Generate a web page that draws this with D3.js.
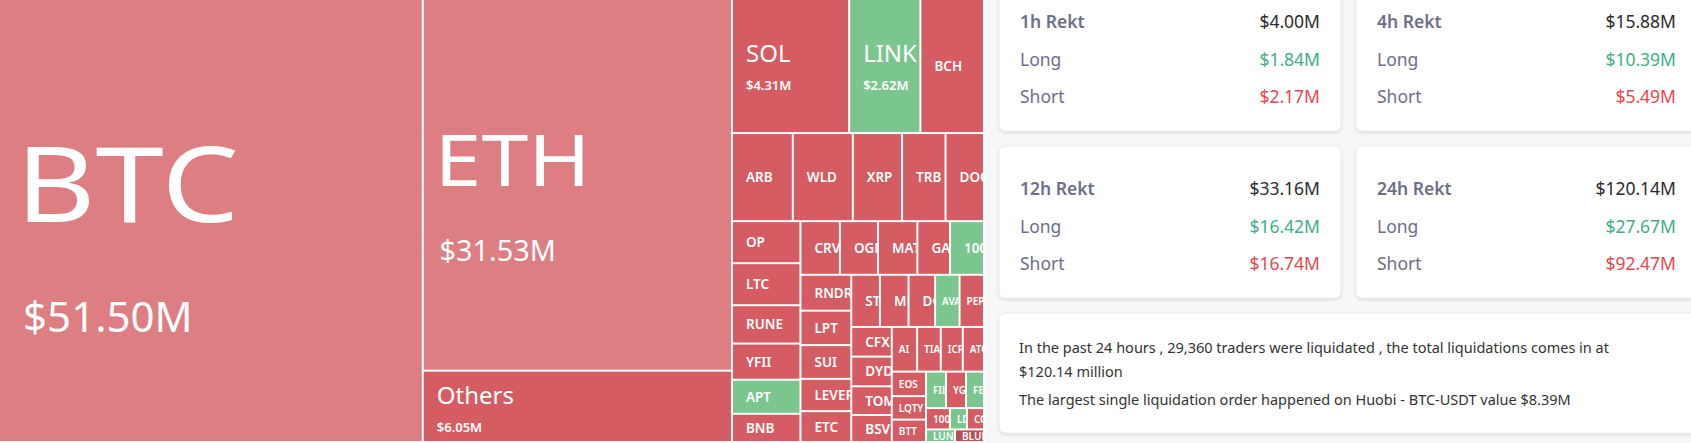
<!DOCTYPE html>
<html>
<head>
<meta charset="utf-8">
<script src="https://cdn.jsdelivr.net/npm/d3@7"></script>
<style>
  html, body { margin: 0; padding: 0; background: #f7f7f8; overflow: hidden; }
  svg { display: block; font-family: "Noto Sans", "Open Sans", sans-serif; }
</style>
</head>
<body>
<svg id="chart" width="1691" height="443"></svg>
<script>
// coins, liquidation value in $M, and which side dominated (1 = long / green)
var bigCoins = ["BTC", "ETH", "Others"];
var bigValues = [51.50, 31.53, 6.05];

var row1Coins = ["SOL", "LINK", "BCH"];
var row1Values = [4.31, 2.62, 2.34];
var row1Green = [0, 1, 0];

var row2Coins = ["ARB", "WLD", "XRP", "TRB", "DOGE"];
var row2Values = [1.47, 1.45, 1.19, 1.05, 0.93];

var colACoins = ["OP", "LTC", "RUNE", "YFII", "APT", "BNB"];
var colAValues = [0.79, 0.79, 0.72, 0.68, 0.64, 0.53];
var colAGreen = [0, 0, 0, 0, 1, 0];

var rowBCoins = ["CRV", "OGN", "MATIC", "GALA", "1000SHIB"];
var rowBValues = [0.58, 0.56, 0.58, 0.48, 0.50];
var rowBGreen = [0, 0, 0, 0, 1];

var colCCoins = ["RNDR", "LPT", "SUI", "LEVER", "ETC"];
var colCValues = [0.50, 0.48, 0.47, 0.45, 0.43];

var rowDCoins = ["STX", "MKR", "DOT", "AVAX", "PEPE"];
var rowDValues = [0.41, 0.41, 0.38, 0.35, 0.35];
var rowDGreen = [0, 0, 0, 1, 0];

var colECoins = ["CFX", "DYDX", "TOMO", "BSV"];
var colEValues = [0.33, 0.33, 0.32, 0.30];

var rowFCoins = ["AI", "TIA", "ICP", "ATOM"];
var rowFValues = [0.31, 0.29, 0.27, 0.26];

var colGCoins = ["EOS", "LQTY", "BTT"];
var colGValues = [0.23, 0.22, 0.21];

var rowHCoins = ["FIL", "YGG", "FET"];
var rowHValues = [0.20, 0.20, 0.18];
var rowHGreen = [1, 0, 1];

var rowICoins = ["1000FLOKI", "LDO", "COMP"];
var rowIValues = [0.14, 0.10, 0.10];
var rowIGreen = [0, 1, 0];

var rowJCoins = ["LUNA", "BLUR"];
var rowJValues = [0.10, 0.10];
var rowJGreen = [1, 2];

// rekt cards
var periods = ["1h Rekt", "4h Rekt", "12h Rekt", "24h Rekt"];
var totals = ["$4.00M", "$15.88M", "$33.16M", "$120.14M"];
var longs = ["$1.84M", "$10.39M", "$16.42M", "$27.67M"];
var shorts = ["$2.17M", "$5.49M", "$16.74M", "$92.47M"];
var summaryLines = [
  "In the past 24 hours , 29,360 traders were liquidated , the total liquidations comes in at",
  "$120.14 million",
  "The largest single liquidation order happened on Huobi - BTC-USDT value $8.39M"
];

function leaves(names, values, green, light) {
  return names.map(function(n, i) {
    return { name: n, value: values[i], green: green ? green[i] : 0, light: !!light };
  });
}
function group(dir, kids) { return { dir: dir, children: kids }; }

// "h" = split left-to-right, "v" = split top-to-bottom
var tree = group("h", [
  leaves([bigCoins[0]], [bigValues[0]], null, true)[0],
  group("v", leaves(bigCoins.slice(1), bigValues.slice(1), null, true)
    .map(function(d, i) { if (i == 1) d.light = false; return d; })),
  group("v", [
    group("h", leaves(row1Coins, row1Values, row1Green)),
    group("h", leaves(row2Coins, row2Values)),
    group("h", [
      group("v", leaves(colACoins, colAValues, colAGreen)),
      group("v", [
        group("h", leaves(rowBCoins, rowBValues, rowBGreen)),
        group("h", [
          group("v", leaves(colCCoins, colCValues)),
          group("v", [
            group("h", leaves(rowDCoins, rowDValues, rowDGreen)),
            group("h", [
              group("v", leaves(colECoins, colEValues)),
              group("v", [
                group("h", leaves(rowFCoins, rowFValues)),
                group("h", [
                  group("v", leaves(colGCoins, colGValues)),
                  group("v", [
                    group("h", leaves(rowHCoins, rowHValues, rowHGreen)),
                    group("h", leaves(rowICoins, rowIValues, rowIGreen)),
                    group("h", leaves(rowJCoins, rowJValues, rowJGreen))
                  ])
                ])
              ])
            ])
          ])
        ])
      ])
    ])
  ])
]);

var W = 985, H = 443;
var svg = d3.select("#chart");

var root = d3.hierarchy(tree).sum(function(d) { return d.children ? 0 : d.value; });
d3.treemap()
  .size([W, H])
  .tile(function(node, x0, y0, x1, y1) {
    if (node.data.dir == "v") d3.treemapSlice(node, x0, y0, x1, y1);
    else d3.treemapDice(node, x0, y0, x1, y1);
  })(root);

svg.append("rect").attr("width", W).attr("height", H).attr("fill", "#fff");

var cells = svg.selectAll("g.cell")
  .data(root.leaves())
  .join("g")
  .attr("class", "cell")
  .attr("transform", function(d) { return "translate(" + d.x0 + "," + d.y0 + ")"; });

cells.append("clipPath")
  .attr("id", function(d, i) { return "clip" + i; })
  .append("rect")
  .attr("width", function(d) { return Math.max(0, d.x1 - d.x0 - 2); })
  .attr("height", function(d) { return Math.max(0, d.y1 - d.y0 - 2); });

cells.append("rect")
  .attr("width", function(d) { return Math.max(0, d.x1 - d.x0 - 2); })
  .attr("height", function(d) { return Math.max(0, d.y1 - d.y0 - 2); })
  .attr("fill", function(d) {
    if (d.data.green == 1) return "#7bc68e";
    if (d.data.green == 2) return "#b84e57";
    return d.data.light ? "#dc7e82" : "#d45c62";
  });

var labels = cells.append("g")
  .attr("clip-path", function(d, i) { return "url(#clip" + i + ")"; })
  .attr("fill", "#fff");

labels.each(function(d) {
  var g = d3.select(this), w = d.x1 - d.x0, h = d.y1 - d.y0;
  var v = "$" + d3.format(".2f")(d.data.value) + "M";
  if (d.data.value > 20) {
    var fs = d.data.value > 40 ? 105 : 72;
    var nb = h * 0.5;
    g.append("text").attr("transform", "translate(" + fs * 0.15 + "," + nb + ") scale(1.17,1)")
      .attr("font-size", fs).text(d.data.name);
    g.append("text").attr("x", fs * 0.22).attr("y", nb + fs * 1.05)
      .attr("font-size", fs * 0.4).text(v);
  } else if (d.data.value > 2.5) {
    var nb2 = h * 0.46;
    g.append("text").attr("x", 13).attr("y", nb2)
      .attr("font-size", 24).text(d.data.name);
    g.append("text").attr("x", 13).attr("y", nb2 + 28)
      .attr("font-size", 13).attr("font-weight", 600).text(v);
  } else {
    var small = h < 26 || w < 26;
    g.append("text").attr("x", small ? 6 : 13).attr("y", h / 2 + (small ? 3 : 4))
      .attr("font-size", small ? 10 : 13.5).attr("font-weight", 600).text(d.data.name);
  }
});

// right panel
var panel = svg.append("g");
panel.append("rect").attr("x", W).attr("width", 1691 - W).attr("height", H).attr("fill", "#f7f7f8");

var defs = svg.append("defs");
var f = defs.append("filter").attr("id", "shadow").attr("x", "-5%").attr("y", "-10%")
  .attr("width", "110%").attr("height", "130%");
f.append("feDropShadow").attr("dx", 0).attr("dy", 1.5).attr("stdDeviation", 1.5)
  .attr("flood-color", "#000").attr("flood-opacity", 0.12);

var cardX = [999, 1356], cardW = [342, 341];
var cardY = [-20, 146], cardH = [151, 152];
var labelColor = "#6e6e88";

periods.forEach(function(p, i) {
  var col = i % 2, row = Math.floor(i / 2);
  var x = cardX[col], y = cardY[row];
  panel.append("rect").attr("x", x).attr("y", y).attr("width", cardW[col]).attr("height", cardH[row])
    .attr("rx", 6).attr("fill", "#fff").attr("stroke", "#ececef").attr("filter", "url(#shadow)");
  var base = row == 0 ? 28 : 195;
  var lx = x + 21, rx = x + cardW[col] - 21;
  panel.append("text").attr("x", lx).attr("y", base).attr("font-size", 17.5)
    .attr("font-weight", 600).attr("fill", labelColor).text(p);
  panel.append("text").attr("x", rx).attr("y", base).attr("font-size", 17.5)
    .attr("text-anchor", "end").attr("fill", "#2b2b2b").text(totals[i]);
  panel.append("text").attr("x", lx).attr("y", base + 38).attr("font-size", 17.5)
    .attr("fill", labelColor).text("Long");
  panel.append("text").attr("x", rx).attr("y", base + 38).attr("font-size", 17.5)
    .attr("text-anchor", "end").attr("fill", "#40ae88").text(longs[i]);
  panel.append("text").attr("x", lx).attr("y", base + 75).attr("font-size", 17.5)
    .attr("fill", labelColor).text("Short");
  panel.append("text").attr("x", rx).attr("y", base + 75).attr("font-size", 17.5)
    .attr("text-anchor", "end").attr("fill", "#e5484f").text(shorts[i]);
});

panel.append("rect").attr("x", 999).attr("y", 313).attr("width", 710).attr("height", 120)
  .attr("rx", 6).attr("fill", "#fff").attr("stroke", "#ececef").attr("filter", "url(#shadow)");
var lineY = [353, 377, 405];
summaryLines.forEach(function(t, i) {
  panel.append("text").attr("x", 1019).attr("y", lineY[i]).attr("font-size", 14.5)
    .attr("fill", "#333").text(t);
});
</script>
</body>
</html>
